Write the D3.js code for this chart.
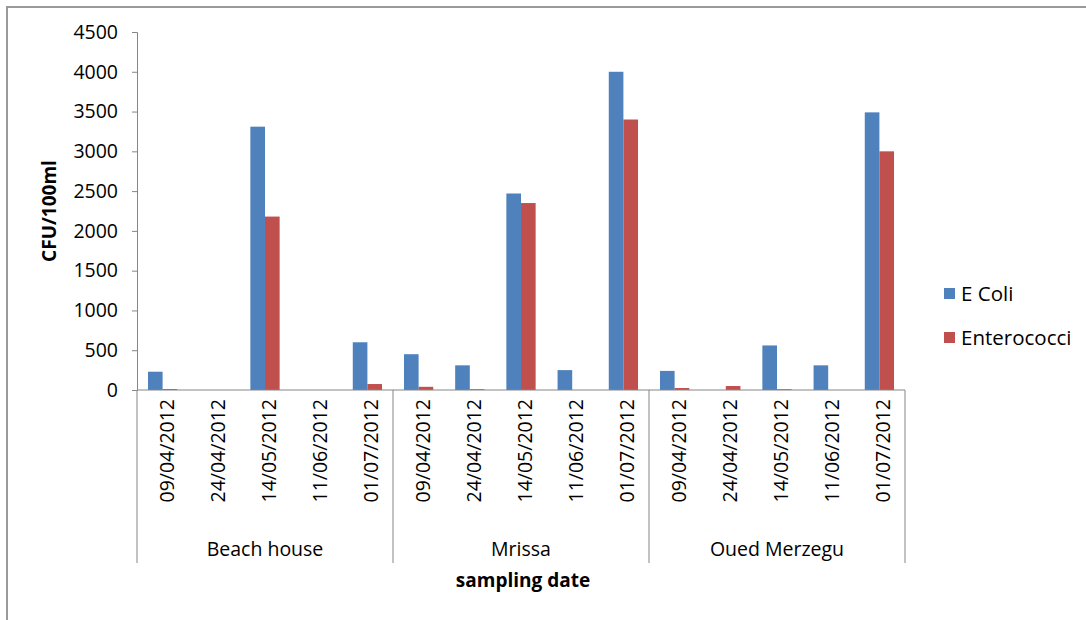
<!DOCTYPE html>
<html>
<head>
<meta charset="utf-8">
<script src="https://cdn.jsdelivr.net/npm/d3@7"></script>
<style>
  html, body { margin: 0; padding: 0; background: #fff; }
  svg { display: block; }
  text { font-family: "Open Sans", "Liberation Sans", sans-serif; fill: #000; }
</style>
</head>
<body>
<script>
const sites = ["Beach house", "Mrissa", "Oued Merzegu"];
const dates = ["09/04/2012", "24/04/2012", "14/05/2012", "11/06/2012", "01/07/2012"];
const seriesNames = ["E Coli", "Enterococci"];
const eColi = [230, 0, 3310, 0, 600, 450, 310, 2470, 250, 4000, 240, 0, 560, 310, 3490];
const enterococci = [12, 0, 2180, 0, 75, 40, 10, 2350, 0, 3400, 25, 50, 10, 0, 3000];
const yTicks = [0, 500, 1000, 1500, 2000, 2500, 3000, 3500, 4000, 4500];
const colors = ["#4F81BD", "#C0504D"];

(function () {
const W = 1086, H = 620;
const svg = d3.select("body").append("svg").attr("width", W).attr("height", H);

// outer frame (partially cut off at right / bottom)
svg.append("rect").attr("x", 7).attr("y", 7).attr("width", W + 20).attr("height", H + 20)
  .attr("fill", "none").attr("stroke", "#9a9a9a").attr("stroke-width", 2);

const pLeft = 137, pRight = 905, pTop = 32, pBottom = 390;

const cats = [];
sites.forEach((s, i) => dates.forEach((d, j) => cats.push({ site: s, date: d, key: s + "|" + d, idx: i * dates.length + j })));

const x0 = d3.scaleBand().domain(cats.map(c => c.key)).range([pLeft, pRight]).padding(0);
const x1 = d3.scaleBand().domain(seriesNames).range([0, x0.bandwidth()]).paddingInner(0).paddingOuter(0.75);
const y = d3.scaleLinear().domain([0, 4500]).range([pBottom, pTop]);

// y axis
const yAxis = svg.append("g").attr("transform", `translate(${pLeft},0)`)
  .call(d3.axisLeft(y).tickValues(yTicks).tickSize(5).tickPadding(14).tickFormat(d3.format("d")));
yAxis.selectAll("path, line").attr("stroke", "#868686");
yAxis.selectAll("text").attr("font-size", 19.5).attr("fill", "#000");

// bars
const vals = [eColi, enterococci];
const g = svg.append("g");
cats.forEach(c => {
  seriesNames.forEach((s, k) => {
    const v = vals[k][c.idx];
    g.append("rect")
      .attr("x", x0(c.key) + x1(s))
      .attr("y", y(v))
      .attr("width", x1.bandwidth())
      .attr("height", y(0) - y(v))
      .attr("fill", colors[k]);
  });
});

// x axis line
svg.append("line").attr("x1", pLeft).attr("x2", pRight).attr("y1", pBottom).attr("y2", pBottom)
  .attr("stroke", "#868686");

// date labels
cats.forEach(c => {
  const cx = x0(c.key) + x0.bandwidth() / 2;
  svg.append("text")
    .attr("transform", `translate(${cx + 11},${pBottom + 9}) rotate(-90)`)
    .attr("text-anchor", "end")
    .attr("font-size", 19.5)
    .text(c.date);
});

// group separators and site labels
const groupBounds = sites.map((s, i) => [x0(cats[i * dates.length].key), x0(cats[i * dates.length + dates.length - 1].key) + x0.bandwidth()]);
const seps = [groupBounds[0][0]].concat(groupBounds.map(b => b[1]));
seps.forEach(sx => {
  svg.append("line").attr("x1", sx).attr("x2", sx).attr("y1", pBottom).attr("y2", 563)
    .attr("stroke", "#868686");
});
sites.forEach((s, i) => {
  svg.append("text").attr("x", (groupBounds[i][0] + groupBounds[i][1]) / 2).attr("y", 556)
    .attr("text-anchor", "middle").attr("font-size", 19.5).text(s);
});

// axis titles
svg.append("text").attr("x", (pLeft + pRight) / 2 + 2).attr("y", 587).attr("text-anchor", "middle")
  .attr("font-size", 19).attr("font-weight", "bold").text("sampling date");
svg.append("text").attr("transform", `translate(56,${(pTop + pBottom) / 2}) rotate(-90)`)
  .attr("text-anchor", "middle").attr("font-size", 19).attr("font-weight", "bold").text("CFU/100ml");

// legend
seriesNames.forEach((s, k) => {
  const ly = 294 + k * 44;
  svg.append("rect").attr("x", 944).attr("y", ly - 6).attr("width", 11).attr("height", 11).attr("fill", colors[k]);
  svg.append("text").attr("x", 961).attr("y", ly + 7).attr("font-size", 20.5).text(s);
});
})();
</script>
</body>
</html>
